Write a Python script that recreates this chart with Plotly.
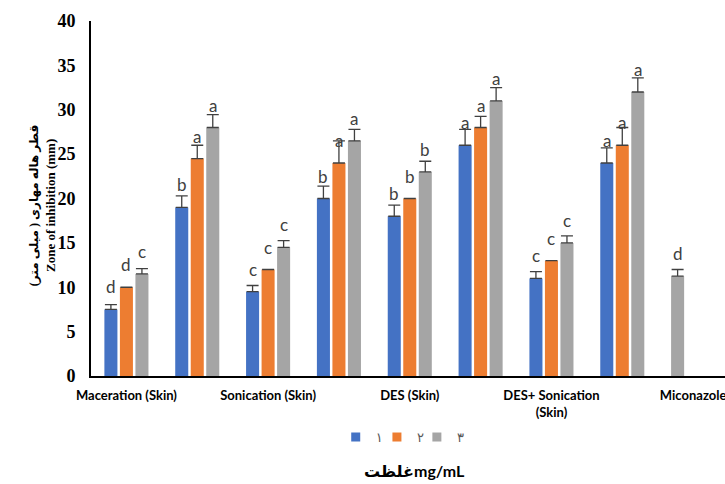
import plotly.graph_objects as go

# Concentration series (mg/mL), shown in the legend with Persian digits
series_names = ["١", "٢", "٣"]
series_colors = ["#4472C4", "#ED7D31", "#A5A5A5"]

# Category axis: extraction method groups; labelled every other group
tick_labels = ["Maceration (Skin)", "Sonication (Skin)", "DES (Skin)",
               "DES+ Sonication<br>(Skin)", "Miconazole"]
tick_groups = [0, 2, 4, 6, 8]

# Zone of inhibition means (mm) per group, one list per concentration
zone_1 = [7.5, 19.0, 9.5, 20.0, 18.0, 26.0, 11.0, 24.0]
zone_2 = [10.0, 24.5, 12.0, 24.0, 20.0, 28.0, 13.0, 26.0]
zone_3 = [11.5, 28.0, 14.5, 26.5, 23.0, 31.0, 15.0, 32.0]

# Standard deviations
sd_1 = [0.55, 1.3, 0.7, 1.4, 1.25, 1.8, 0.75, 1.7]
sd_2 = [0.0, 1.5, 0.0, 2.5, 0.0, 1.25, 0.0, 2.0]
sd_3 = [0.6, 1.45, 0.75, 1.3, 1.2, 1.5, 0.8, 1.6]

# Significance letters
letters_1 = ["d", "b", "c", "b", "b", "a", "c", "a"]
letters_2 = ["d", "a", "c", "a", "b", "a", "c", "a"]
letters_3 = ["c", "a", "c", "a", "b", "a", "c", "a"]

# Positive control
miconazole_zone = 11.25
miconazole_sd = 0.75
miconazole_letter = "d"
miconazole_group = 8

BAR_GAP = 0.343
GROUP_GAP = 0.16
slot = (1 - BAR_GAP) / 3

err_style = dict(type="data", symmetric=False, thickness=1.3, width=6, color="#404040")

fig = go.Figure()
all_zones = [zone_1, zone_2, zone_3]
all_sd = [sd_1, sd_2, sd_3]
all_letters = [letters_1, letters_2, letters_3]
legend_ids = ["legend", "legend2", "legend3"]

for k, (name, color, zones, sds) in enumerate(zip(series_names, series_colors, all_zones, all_sd)):
    fig.add_trace(go.Bar(
        name=name, x=list(range(len(zones))), y=zones,
        marker=dict(color=color, line=dict(width=0)),
        offsetgroup=str(k), showlegend=False,
        error_y=dict(array=sds, arrayminus=[0] * len(sds), **err_style),
    ))
    # small square legend key for this series
    fig.add_trace(go.Scatter(
        name=name, x=[None], y=[None], mode="markers",
        marker=dict(symbol="square", size=9, color=color),
        legend=legend_ids[k], showlegend=True,
    ))

fig.add_trace(go.Bar(
    name="Miconazole", x=[miconazole_group], y=[miconazole_zone],
    marker=dict(color=series_colors[2], line=dict(width=0)),
    offsetgroup="0", showlegend=False,
    error_y=dict(array=[miconazole_sd], arrayminus=[0], **err_style),
))

letter_font = dict(family="Lato, sans-serif", size=17, color="#404040")
annotations = []
for k, (zones, letters) in enumerate(zip(all_zones, all_letters)):
    for i, (v, t) in enumerate(zip(zones, letters)):
        annotations.append(dict(x=i + (k - 1) * slot, y=v, text=t, showarrow=False,
                                xref="x", yref="y", yanchor="bottom", yshift=10,
                                font=letter_font))
annotations.append(dict(x=miconazole_group - slot, y=miconazole_zone, text=miconazole_letter,
                        showarrow=False, xref="x", yref="y", yanchor="bottom", yshift=10,
                        font=letter_font))

# Axis titles
annotations.append(dict(
    x=-0.104, y=0.48, xref="paper", yref="paper", textangle=-90, showarrow=False,
    text="<span style='font-size:12px'>قطر هاله مهاری ( میلی متر)</span><br>Zone of inhibition (mm)",
    font=dict(family="Liberation Serif, DejaVu Sans", size=13, color="#000000", weight="bold"),
))
annotations.append(dict(
    x=0.51, y=-0.265, xref="paper", yref="paper", showarrow=False,
    text="غلظتmg/mL", yanchor="middle",
    font=dict(family="Lato, DejaVu Sans", size=16, color="#000000", weight="bold"),
))

legend_style = dict(orientation="h", y=-0.172, xanchor="left", yanchor="middle",
                    font=dict(family="DejaVu Sans", size=13, color="#595959"),
                    bgcolor="rgba(0,0,0,0)", itemwidth=30)

fig.update_layout(
    width=725, height=484,
    margin=dict(l=91, r=0, t=21, b=108),
    paper_bgcolor="white", plot_bgcolor="white",
    barmode="group", bargap=BAR_GAP, bargroupgap=GROUP_GAP,
    showlegend=True,
    legend=dict(x=0.386, **legend_style),
    legend2=dict(x=0.451, **legend_style),
    legend3=dict(x=0.514, **legend_style),
    annotations=annotations,
    xaxis=dict(range=[-0.5, 8.45], tickmode="array", tickvals=tick_groups, ticktext=tick_labels,
               showline=True, linecolor="#000000", linewidth=2, showgrid=False, zeroline=False,
               ticks="", ticklabelstandoff=6, ticklabeloverflow="allow",
               tickfont=dict(family="Lato, sans-serif", size=13, color="#000000", weight="bold")),
    yaxis=dict(range=[0, 40], dtick=5, showline=True, linecolor="#000000", linewidth=2,
               showgrid=False, zeroline=False, ticks="", ticklabelstandoff=10,
               tickfont=dict(family="Liberation Serif, serif", size=18, color="#000000", weight="bold")),
)

fig.write_html("out.html")
